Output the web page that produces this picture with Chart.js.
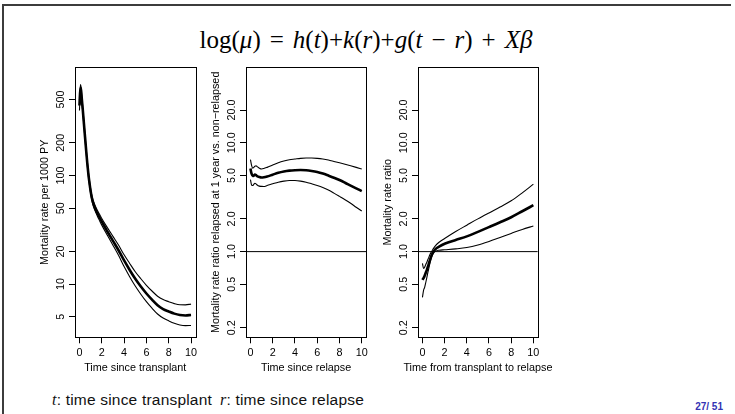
<!DOCTYPE html>
<html>
<head>
<meta charset="utf-8">
<script src="https://cdn.jsdelivr.net/npm/chart.js@4.4.1/dist/chart.umd.min.js"></script>
<style>
  html, body { margin: 0; padding: 0; background: #fff; }
  body { width: 735px; height: 414px; position: relative; overflow: hidden; font-family: "Liberation Sans", Arial, sans-serif; }
  .frame-top { position: absolute; left: 3px; top: 4px; width: 728px; height: 2px; background: #3c3c3c; }
  .frame-left { position: absolute; left: 2px; top: 4px; width: 2px; height: 410px; background: #3c3c3c; }
  .panel { position: absolute; top: 50px; }
  #formula { position: absolute; top: 25px; left: 178px; width: 376px; text-align: center; font-family: "Liberation Serif", "DejaVu Serif", serif; font-size: 25px; line-height: 30px; color: #000; white-space: nowrap; }
  #formula i { font-style: italic; }
  #formula .op { margin: 0 0.36em; }
  .note { position: absolute; top: 391px; font-size: 15.5px; line-height: 18px; color: #111; white-space: nowrap; letter-spacing: 0.2px; }
  .note i { font-family: "Liberation Serif", serif; font-style: italic; font-size: 16px; }
  #pageno { position: absolute; top: 401px; right: 12px; font-size: 10px; font-weight: bold; color: #3333b3; white-space: nowrap; }
</style>
</head>
<body>
<div class="frame-top"></div>
<div class="frame-left"></div>

<div id="formula">log(<i>μ</i>)<span class="op">=</span><i>h</i>(<i>t</i>)+<i>k</i>(<i>r</i>)+<i>g</i>(<i>t</i><span class="op">−</span><i>r</i>)<span class="op">+</span><i>Xβ</i></div>

<canvas id="panelTransplant" class="panel"></canvas>
<canvas id="panelRelapse" class="panel"></canvas>
<canvas id="panelGap" class="panel"></canvas>

<div class="note" style="left:52px;"><i>t</i>: time since transplant</div>
<div class="note" style="left:220px;"><i>r</i>: time since relapse</div>
<div id="pageno">27/ 51</div>

<script>
// --- Data: panel 1, baseline mortality rate ---
const transplantTimes = [0, 0.05, 0.1, 0.15, 0.2, 0.3, 0.4, 0.5, 0.6, 0.7, 0.8, 0.9, 1.0, 1.1, 1.2, 1.4, 1.6, 1.8, 2.0, 2.5, 3, 3.5, 4, 4.5, 5, 5.5, 6, 6.5, 7, 7.5, 8, 8.5, 9, 9.5, 10];
const rateFit = [440, 560, 640, 600, 520, 400, 300, 225, 170, 130, 103, 85, 72, 63, 57, 50, 45, 41, 37.5, 30.5, 25, 20.5, 16.5, 13.5, 11.2, 9.5, 8.2, 7.2, 6.4, 5.9, 5.6, 5.35, 5.2, 5.15, 5.2];
const rateUpper = [493, 605, 685, 636, 551, 420, 315, 236, 178, 136, 108, 89, 75.6, 66.2, 60.1, 53, 47.9, 43.9, 40.1, 33.1, 27.5, 22.9, 18.6, 15.5, 13.0, 11.2, 9.76, 8.64, 7.74, 7.2, 6.89, 6.61, 6.45, 6.44, 6.55];
const rateLower = [396, 515, 595, 564, 489, 378, 284, 214, 162, 124, 98, 81, 68.4, 59.9, 54, 47.3, 42.4, 38.4, 34.9, 28.1, 22.8, 18.4, 14.5, 11.7, 9.6, 8.07, 6.89, 6.0, 5.31, 4.87, 4.59, 4.36, 4.21, 4.15, 4.16];

// --- Data: panel 2, rate ratio by time since relapse ---
const relapseTimes = [0, 0.1, 0.2, 0.3, 0.4, 0.5, 0.6, 0.8, 1.0, 1.2, 1.5, 2, 2.5, 3, 3.5, 4, 4.5, 5, 5.5, 6, 6.5, 7, 7.5, 8, 8.5, 9, 9.5, 10];
const relapseFit = [5.8, 5.2, 4.95, 5.0, 5.1, 5.05, 4.95, 4.85, 4.8, 4.82, 4.9, 5.1, 5.3, 5.45, 5.55, 5.6, 5.62, 5.6, 5.52, 5.4, 5.22, 5.0, 4.78, 4.55, 4.3, 4.05, 3.82, 3.6];
const relapseUpper = [7.0, 6.2, 5.85, 5.95, 6.1, 6.15, 6.05, 5.85, 5.75, 5.8, 5.95, 6.25, 6.55, 6.8, 7.0, 7.1, 7.2, 7.25, 7.25, 7.2, 7.1, 6.95, 6.75, 6.55, 6.35, 6.15, 5.95, 5.75];
const relapseLower = [4.6, 4.1, 4.05, 4.15, 4.25, 4.2, 4.1, 4.0, 3.98, 3.97, 4.05, 4.2, 4.35, 4.45, 4.5, 4.5, 4.45, 4.35, 4.2, 4.05, 3.88, 3.68, 3.45, 3.22, 3.0, 2.78, 2.56, 2.36];

// --- Data: panel 3, rate ratio by time from transplant to relapse ---
const gapTimes = [0, 0.1, 0.2, 0.3, 0.4, 0.5, 0.6, 0.7, 0.8, 0.9, 1.0, 1.2, 1.5, 2, 3, 4, 5, 6, 7, 8, 9, 10];
const gapFit = [0.55, 0.57, 0.6, 0.64, 0.68, 0.73, 0.79, 0.85, 0.91, 0.96, 1.0, 1.06, 1.11, 1.18, 1.28, 1.38, 1.52, 1.68, 1.86, 2.07, 2.35, 2.67];
const gapUpper = [0.78, 0.70, 0.72, 0.76, 0.8, 0.85, 0.9, 0.95, 0.99, 1.03, 1.07, 1.14, 1.22, 1.32, 1.53, 1.75, 2.0, 2.27, 2.57, 2.93, 3.47, 4.17];
const gapLower = [0.38, 0.44, 0.47, 0.52, 0.58, 0.65, 0.72, 0.8, 0.87, 0.93, 0.97, 1.01, 1.03, 1.04, 1.06, 1.09, 1.15, 1.24, 1.35, 1.47, 1.6, 1.72];

// --- Ticks ---
const xTicks = [0, 2, 4, 6, 8, 10];
const rateTicks = [5, 10, 20, 50, 100, 200, 500];
const rateTickLabels = ['5', '10', '20', '50', '100', '200', '500'];
const ratioTicks = [0.2, 0.5, 1, 2, 5, 10, 20];
const ratioTickLabels = ['0.2', '0.5', '1.0', '2.0', '5.0', '10.0', '20.0'];
const referenceLevel = [1, 1];

// --- Layout ---
const FONT = '"Liberation Sans", Arial, sans-serif';
const FONT_SIZE = 10.8;
const BOX_TOP = 67.3, BOX_BOTTOM = 337.3;
const CANVAS_TOP = 50, CANVAS_H = 340;
const Y_AXIS_W = 40, X_AXIS_H = 40, PAD_L = 4, PAD_R = 24;
const X_MIN = -0.4, X_MAX = 10.4;
const X_TITLE_Y = 368.4 - CANVAS_TOP;

const toPoints = (xs, ys) => xs.map((x, i) => ({ x: x, y: ys[i] }));

// box, rotated y tick labels and x title (R style)
const rBoxPlugin = {
  id: 'rBox',
  afterDraw(chart, args, opts) {
    const { ctx, chartArea, scales } = chart;
    const y = scales.y;
    ctx.save();
    ctx.strokeStyle = '#000';
    ctx.lineWidth = 1;
    const l = Math.round(chartArea.left) + 0.5, t = Math.round(chartArea.top) + 0.5;
    const r = Math.round(chartArea.right) + 0.5, b = Math.round(chartArea.bottom) + 0.5;
    ctx.strokeRect(l, t, r - l, b - t);
    ctx.fillStyle = '#000';
    ctx.font = FONT_SIZE + 'px ' + FONT;
    ctx.textAlign = 'center';
    ctx.textBaseline = 'middle';
    opts.values.forEach((v, i) => {
      ctx.save();
      ctx.translate(chartArea.left - 13.6, y.getPixelForValue(v));
      ctx.rotate(-Math.PI / 2);
      ctx.fillText(opts.labels[i], 0, 0);
      ctx.restore();
    });
    ctx.fillText(opts.xTitle, (chartArea.left + chartArea.right) / 2, X_TITLE_Y);
    ctx.restore();
  }
};

const lineSet = (data, width) => ({
  data: data,
  borderColor: '#000',
  borderWidth: width,
  pointRadius: 0,
  fill: false,
  cubicInterpolationMode: 'monotone'
});

const makePanel = (id, box, cfg) => {
  const canvas = document.getElementById(id);
  const left = box.left - Y_AXIS_W - PAD_L;
  const width = Math.round(box.right - left + PAD_R);
  canvas.width = width;
  canvas.height = CANVAS_H;
  canvas.style.left = left + 'px';
  canvas.style.width = width + 'px';
  canvas.style.height = CANVAS_H + 'px';

  const tickFont = { family: FONT, size: FONT_SIZE };
  const datasets = [
    lineSet(toPoints(cfg.xs, cfg.upper), 1.1),
    lineSet(toPoints(cfg.xs, cfg.lower), 1.1),
    lineSet(toPoints(cfg.xs, cfg.fit), 2.6)
  ];
  if (cfg.refLine) {
    datasets.push({
      data: toPoints([X_MIN, X_MAX], referenceLevel),
      borderColor: '#000', borderWidth: 1, pointRadius: 0, fill: false
    });
  }

  return new Chart(canvas, {
    type: 'line',
    data: { datasets: datasets },
    plugins: [rBoxPlugin],
    options: {
      responsive: false,
      animation: false,
      devicePixelRatio: 1,
      layout: {
        padding: {
          left: PAD_L,
          right: left + width - box.right,
          top: BOX_TOP - CANVAS_TOP,
          bottom: CANVAS_TOP + CANVAS_H - BOX_BOTTOM - X_AXIS_H
        }
      },
      plugins: {
        legend: { display: false },
        tooltip: { enabled: false },
        rBox: { values: cfg.yTicks, labels: cfg.yLabels, xTitle: cfg.xTitle }
      },
      scales: {
        x: {
          type: 'linear', min: X_MIN, max: X_MAX,
          afterBuildTicks: s => { s.ticks = xTicks.map(v => ({ value: v })); },
          afterFit: s => { s.height = X_AXIS_H; },
          grid: { drawOnChartArea: false, drawTicks: true, tickLength: 6, color: '#000', lineWidth: 1 },
          border: { display: false },
          ticks: { color: '#000', font: tickFont, padding: 3, maxRotation: 0, autoSkip: false },
          title: { display: false }
        },
        y: {
          type: 'logarithmic', min: cfg.yMin, max: cfg.yMax,
          afterBuildTicks: s => { s.ticks = cfg.yTicks.map(v => ({ value: v })); },
          afterFit: s => { s.width = Y_AXIS_W; },
          grid: { drawOnChartArea: false, drawTicks: true, tickLength: 6, color: '#000', lineWidth: 1 },
          border: { display: false },
          ticks: { display: false },
          title: { display: true, text: cfg.yTitle, color: '#000', font: tickFont, padding: { top: 4, bottom: 0 } }
        }
      }
    }
  });
};

makePanel('panelTransplant', { left: 74.5, right: 195 }, {
  xs: transplantTimes, fit: rateFit, upper: rateUpper, lower: rateLower,
  yMin: 3.24, yMax: 989, yTicks: rateTicks, yLabels: rateTickLabels,
  xTitle: 'Time since transplant', yTitle: 'Mortality rate per 1000 PY'
});

makePanel('panelRelapse', { left: 245.6, right: 365.8 }, {
  xs: relapseTimes, fit: relapseFit, upper: relapseUpper, lower: relapseLower,
  yMin: 0.163, yMax: 49.5, yTicks: ratioTicks, yLabels: ratioTickLabels, refLine: true,
  xTitle: 'Time since relapse', yTitle: 'Mortality rate ratio relapsed at 1 year vs. non\u2212relapsed'
});

makePanel('panelGap', { left: 417.5, right: 537.3 }, {
  xs: gapTimes, fit: gapFit, upper: gapUpper, lower: gapLower,
  yMin: 0.163, yMax: 49.5, yTicks: ratioTicks, yLabels: ratioTickLabels, refLine: true,
  xTitle: 'Time from transplant to relapse', yTitle: 'Mortality rate ratio'
});
</script>
</body>
</html>
